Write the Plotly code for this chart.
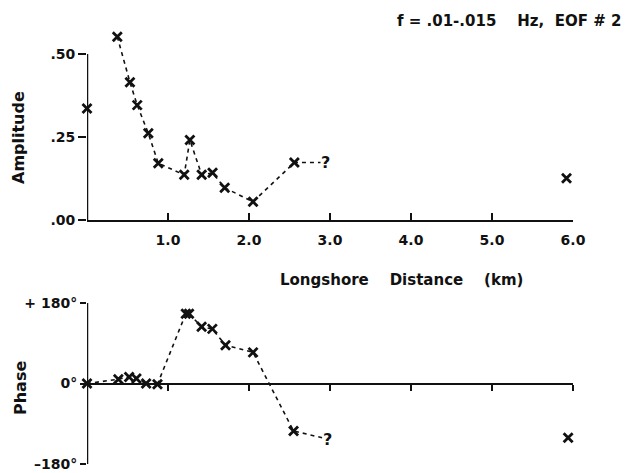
import plotly.graph_objects as go

# ---------------- data ----------------
amp_x = [0.374, 0.53, 0.62, 0.757, 0.88, 1.20, 1.27, 1.416, 1.55, 1.70, 2.05, 2.56]
amp_y = [0.552, 0.415, 0.346, 0.261, 0.171, 0.136, 0.241, 0.136, 0.142, 0.097, 0.055, 0.173]
amp_iso_x = [0.0, 5.92]
amp_iso_y = [0.336, 0.126]
amp_q_x = [2.95]
amp_q_y = [0.173]

ph_x = [0.0, 0.387, 0.52, 0.61, 0.73, 0.87, 1.22, 1.26, 1.415, 1.547, 1.71, 2.05, 2.55]
ph_y = [0, 9.5, 14.7, 11, 0, -1.5, 156, 156, 126.6, 122, 85.6, 69.5, -106]
ph_iso_x = [5.94]
ph_iso_y = [-121]
ph_q_x = [2.97]
ph_q_y = [-124]

x_ticks = [1, 2, 3, 4, 5, 6]
x_ticktext = ["1.0", "2.0", "3.0", "4.0", "5.0", "6.0"]
amp_ticks = [0.0, 0.25, 0.5]
amp_ticktext = [".00", ".25", ".50"]
ph_ticks = [-180, 0, 180]
ph_ticktext = ["\u2013180°", "0°", "+ 180°"]

title_text = "f = .01-.015\u00a0\u00a0\u00a0\u00a0Hz,\u00a0 EOF # 2"
xlabel = "Longshore\u00a0\u00a0\u00a0 Distance\u00a0\u00a0\u00a0 (km)"

FONT = "DejaVu Sans"
BLACK = "#111111"

# ---------------- layout geometry ----------------
W, H = 634, 473
mt, mb = 20, 5
plot_h = H - mt - mb
def frac(px):
    return (H - mb - px) / plot_h

top_dom = [frac(220), 1.0]
top_range = [0, 0.5 * (220 - 20) / 166.0]
bot_dom = [frac(465), frac(302)]
zero_pos = frac(384)

fig = go.Figure()

mk = dict(symbol="x-thin", size=9, line=dict(width=2.8, color=BLACK), color=BLACK)
dash = dict(color=BLACK, width=1.6, dash="4px,4px")

# amplitude
fig.add_trace(go.Scatter(x=amp_x + amp_q_x, y=amp_y + amp_q_y, mode="lines",
                         line=dash, xaxis="x", yaxis="y", showlegend=False, cliponaxis=False))
fig.add_trace(go.Scatter(x=amp_x + amp_iso_x, y=amp_y + amp_iso_y, mode="markers",
                         marker=mk, xaxis="x", yaxis="y", showlegend=False, cliponaxis=False))
# phase
fig.add_trace(go.Scatter(x=ph_x + ph_q_x, y=ph_y + ph_q_y, mode="lines",
                         line=dash, xaxis="x2", yaxis="y2", showlegend=False, cliponaxis=False))
fig.add_trace(go.Scatter(x=ph_x + ph_iso_x, y=ph_y + ph_iso_y, mode="markers",
                         marker=mk, xaxis="x2", yaxis="y2", showlegend=False, cliponaxis=False))

annotations = []
for qx, qy in zip(amp_q_x, amp_q_y):
    annotations.append(dict(x=qx, y=qy, xref="x", yref="y", text="?", showarrow=False,
                            font=dict(family=FONT, size=16, color=BLACK, weight="bold"),
                            bgcolor="white", borderpad=0, xanchor="center", yanchor="middle"))
for qx, qy in zip(ph_q_x, ph_q_y):
    annotations.append(dict(x=qx, y=qy, xref="x2", yref="y2", text="?", showarrow=False,
                            font=dict(family=FONT, size=16, color=BLACK, weight="bold"),
                            bgcolor="white", borderpad=0, xanchor="center", yanchor="middle"))

annotations.append(dict(x=623, y=21, xref="paper", yref="paper", text=title_text,
                        showarrow=False, xanchor="right", yanchor="middle",
                        font=dict(family=FONT, size=15, color=BLACK, weight="bold")))
annotations.append(dict(x=401, y=280, xref="paper", yref="paper", text=xlabel,
                        showarrow=False, xanchor="center", yanchor="middle",
                        font=dict(family=FONT, size=15, color=BLACK, weight="bold")))
annotations.append(dict(x=19, y=138, xref="paper", yref="paper", text="Amplitude",
                        showarrow=False, textangle=-90, xanchor="center", yanchor="middle",
                        font=dict(family=FONT, size=16, color=BLACK, weight="bold")))
annotations.append(dict(x=20, y=388, xref="paper", yref="paper", text="Phase",
                        showarrow=False, textangle=-90, xanchor="center", yanchor="middle",
                        font=dict(family=FONT, size=16, color=BLACK, weight="bold")))

# convert pixel-positioned annotations to paper fractions
ml, mr = 87, 61
plot_w = W - ml - mr
for a in annotations:
    if a["xref"] == "paper":
        a["x"] = (a["x"] - ml) / plot_w
        a["y"] = frac(a["y"])

tickfont = dict(family=FONT, size=14, color=BLACK, weight="bold")

fig.update_layout(
    width=W, height=H,
    margin=dict(l=ml, r=mr, t=mt, b=mb, autoexpand=False),
    paper_bgcolor="white", plot_bgcolor="white",
    showlegend=False,
    annotations=annotations,
    xaxis=dict(domain=[0, 1], range=[0, 6], anchor="y", showgrid=False, zeroline=False,
               showline=True, linecolor=BLACK, linewidth=2, automargin=False,
               tickvals=x_ticks, ticktext=x_ticktext, ticks="inside", ticklen=7,
               tickwidth=2, tickcolor=BLACK, tickfont=tickfont, ticklabelstandoff=6),
    yaxis=dict(domain=top_dom, range=top_range, anchor="x", showgrid=False, zeroline=False,
               showline=False, automargin=False, tickvals=amp_ticks, ticktext=amp_ticktext,
               ticks="outside", ticklen=8, tickwidth=2, tickcolor=BLACK, tickfont=tickfont),
    xaxis2=dict(domain=[0, 1], range=[0, 6], anchor="free", position=zero_pos,
                showgrid=False, zeroline=False, showline=True, linecolor=BLACK, linewidth=2,
                automargin=False, tickvals=x_ticks, showticklabels=False, ticks="outside",
                ticklen=6, tickwidth=2, tickcolor=BLACK),
    yaxis2=dict(domain=bot_dom, range=[-182, 182], anchor="x2", showgrid=False, zeroline=False,
                showline=False, automargin=False, ticklabeloverflow="allow",
                tickvals=ph_ticks, ticktext=ph_ticktext, ticks="outside", ticklen=6,
                tickwidth=2, tickcolor=BLACK, tickfont=tickfont),
    shapes=[dict(type="line", xref="x", yref="y", x0=0, x1=0, y0=0, y1=0.5,
                 line=dict(color=BLACK, width=2.5)),
            dict(type="line", xref="x2", yref="y2", x0=0, x1=0, y0=ph_ticks[0], y1=ph_ticks[-1],
                 line=dict(color=BLACK, width=2.5))],
)

fig.write_html("out.html")
